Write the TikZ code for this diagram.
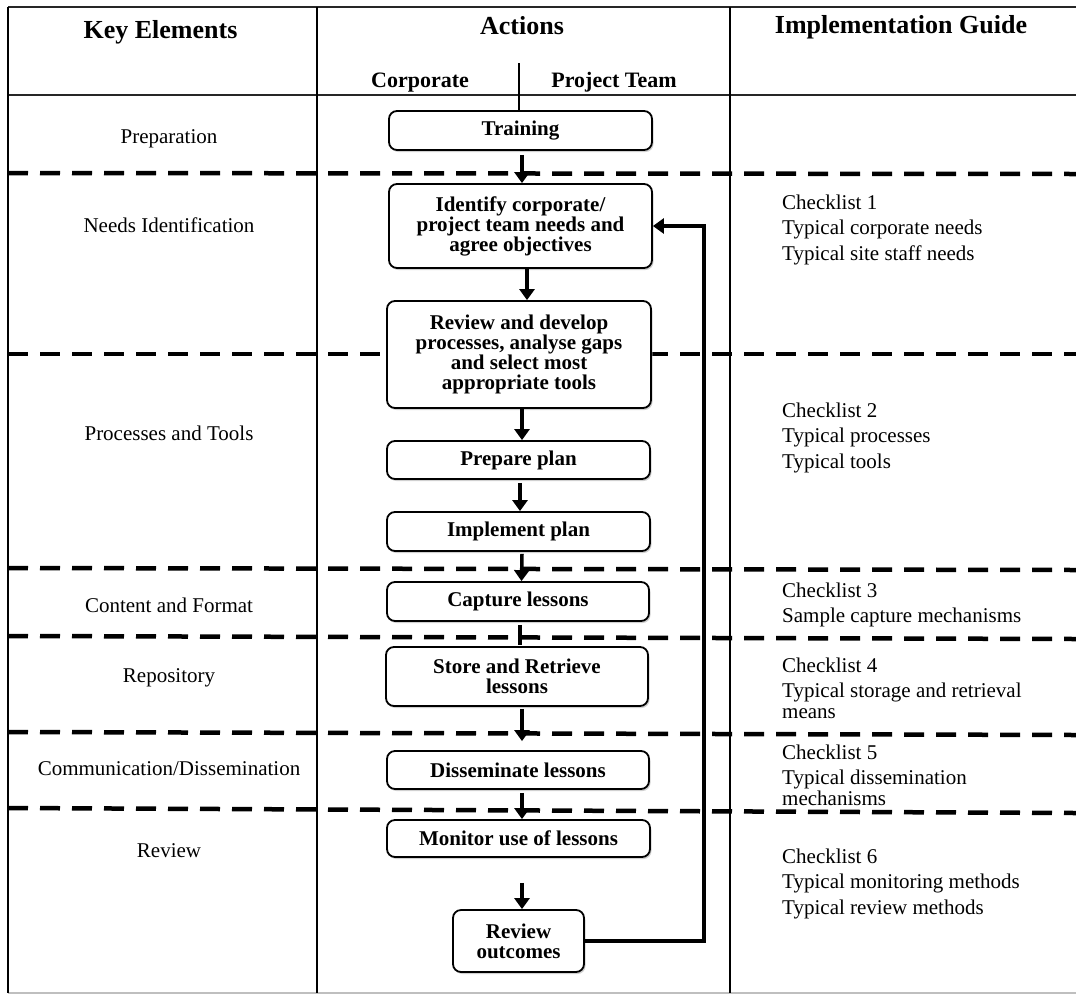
\documentclass[tikz,border=0pt]{standalone}
\usepackage{fontspec}
\setmainfont{Liberation Serif}
\usetikzlibrary{arrows.meta,shadows}
\begin{document}
\begin{tikzpicture}[x=1pt,y=-1pt,
  frame/.style={line width=1.8pt,black},
  thickframe/.style={line width=2.4pt,black!85},
  sep/.style={line width=4.5pt,dash pattern=on 20pt off 12pt},
  box/.style={draw,line width=1.8pt,rounded corners=8pt,fill=white,
    drop shadow={shadow xshift=1.5pt,shadow yshift=-2pt,fill=black!30,opacity=0.6},
    inner sep=0pt,align=center,font=\fontsize{21}{20}\selectfont\bfseries},
  head/.style={font=\fontsize{26}{30}\selectfont\bfseries,inner sep=0pt,anchor=base},
  sub/.style={font=\fontsize{22}{26}\selectfont\bfseries,inner sep=0pt,anchor=base},
  lab/.style={font=\fontsize{21}{25}\selectfont,inner sep=0pt,anchor=base},
  guide/.style={font=\fontsize{21}{25.5}\selectfont,inner sep=0pt,anchor=base west},
  arr/.style={line width=3.5pt,-{Triangle[width=15pt,length=11pt]}},
  plain/.style={line width=3.5pt}
]
\useasboundingbox (0,0) rectangle (1076,994);
\fill[white] (0,0) rectangle (1076,994);

% table frame
\draw[thickframe] (8,7) -- (1076,7);
\draw[thickframe] (8,95) -- (1076,95);
\draw[line width=1.2pt,black!25] (8,993) -- (1076,993);
\draw[frame] (8,7) -- (8,993);
\draw[frame] (317,7) -- (317,993);
\draw[frame] (730,7) -- (730,993);

% dashed separators
\draw[sep] (8,173) -- (1076,174);
\draw[sep] (8,354) -- (1076,354);
\draw[sep] (8,568) -- (1076,570);
\draw[sep] (8,636) -- (1076,639);
\draw[sep] (8,732) -- (1076,735);
\draw[sep] (8,808) -- (1076,813);

% headers
\node[head] (hkey) at (160.5,38) {Key Elements};
\node[head] (hact) at (522,34) {Actions};
\node[head] (himp) at (901,33) {Implementation Guide};
\node[sub] (hcorp) at (420,87) {Corporate};
\node[sub] (hproj) at (614,87) {Project Team};
\coordinate (divtop) at (519,63);

% key elements
\node[lab] (k1) at (169,143) {Preparation};
\node[lab] (k2) at (169,232) {Needs Identification};
\node[lab] (k3) at (169,440) {Processes and Tools};
\node[lab] (k4) at (169,612) {Content and Format};
\node[lab] (k5) at (169,682) {Repository};
\node[lab] (k6) at (169,775) {Communication/Dissemination};
\node[lab] (k7) at (169,857) {Review};

% action boxes
\node[box,minimum width=263pt,minimum height=39pt] (train) at (520.5,130.5) {Training};
\node[box,minimum width=263pt,minimum height=84pt] (ident) at (520.5,226) {Identify corporate/\\project team needs and\\agree objectives};
\node[box,minimum width=264pt,minimum height=107pt] (revdev) at (519,354.5) {Review and develop\\processes, analyse gaps\\and select most\\appropriate tools};
\node[box,minimum width=263pt,minimum height=38pt] (prep) at (518.5,460) {Prepare plan};
\node[box,minimum width=263pt,minimum height=39pt] (impl) at (518.5,531.5) {Implement plan};
\node[box,minimum width=262pt,minimum height=39pt] (capt) at (518,601.5) {Capture lessons};
\node[box,minimum width=262pt,minimum height=59pt] (store) at (517,676.5) {Store and Retrieve\\lessons};
\node[box,minimum width=262pt,minimum height=38pt] (diss) at (518,770) {Disseminate lessons};
\node[box,minimum width=263pt,minimum height=37pt] (moni) at (518.5,838.5) {Monitor use of lessons};
\node[box,minimum width=131pt,minimum height=62pt] (revout) at (518.5,941) {Review\\outcomes};

\draw[line width=1.5pt] (divtop) -- (divtop |- train.north);

% connectors
\draw[arr] ([xshift=1.5pt,yshift=-4pt]train.south) -- ([xshift=1.5pt]ident.north);
\draw[arr] ([xshift=6.5pt]ident.south) -- ([xshift=6.5pt]ident.south |- revdev.north);
\draw[arr] ([xshift=3pt]revdev.south) -- ([xshift=3pt]revdev.south |- prep.north);
\draw[arr] ([xshift=1.5pt,yshift=-3pt]prep.south) -- ([xshift=1.5pt]impl.north);
\draw[arr] ([xshift=3.5pt,yshift=-2pt]impl.south) -- ([xshift=3.5pt]capt.north);
\draw[plain] ([xshift=2pt,yshift=-3pt]capt.south) -- ([xshift=2pt,yshift=1pt]capt.south |- store.north);
\draw[arr,shorten >=9pt] ([xshift=5pt,yshift=-2pt]store.south) -- ([xshift=5pt]store.south |- diss.north);
\draw[arr] ([xshift=4pt,yshift=-3pt]diss.south) -- ([xshift=4pt]diss.south |- moni.north);
\draw[arr] ([xshift=3.5pt,yshift=-25pt]moni.south) -- ([xshift=3.5pt]revout.north);
\draw[arr] (revout.east) -- ++(119,0) |- (ident.east);

% implementation guide
\node[guide] (g1) at (782,209) {\parbox[t]{280pt}{\raggedright Checklist 1\\Typical corporate needs\\Typical site staff needs}};
\node[guide] (g2) at (782,417) {\parbox[t]{280pt}{\raggedright Checklist 2\\Typical processes\\Typical tools}};
\node[guide] (g3) at (782,597) {\parbox[t]{280pt}{\raggedright Checklist 3\\Sample capture mechanisms}};
\node[guide] (g4) at (782,672) {\parbox[t]{280pt}{\raggedright Checklist 4\\Typical storage and retrieval\\[-5pt]means}};
\node[guide] (g5) at (782,759) {\parbox[t]{280pt}{\raggedright Checklist 5\\Typical dissemination\\[-5pt]mechanisms}};
\node[guide] (g6) at (782,863) {\parbox[t]{280pt}{\raggedright Checklist 6\\Typical monitoring methods\\Typical review methods}};
\end{tikzpicture}
\end{document}
